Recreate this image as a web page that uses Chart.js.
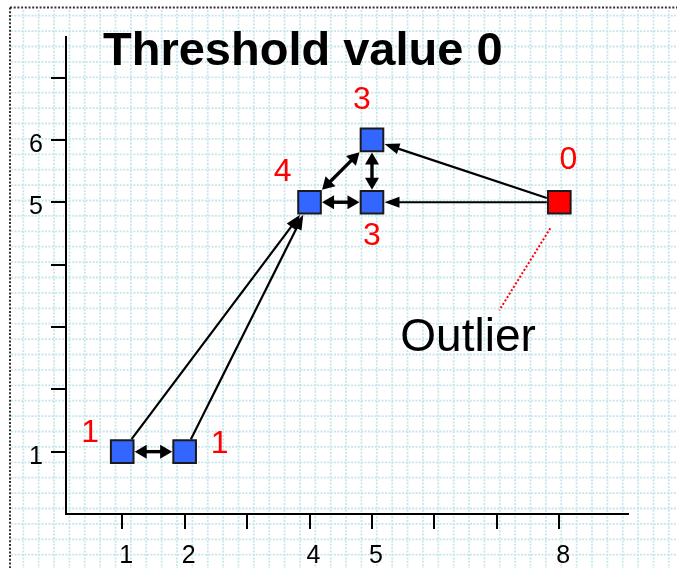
<!DOCTYPE html>
<html>
<head>
<meta charset="utf-8">
<script src="https://cdn.jsdelivr.net/npm/chart.js@4"></script>
<style>
  body { margin: 0; background: #fff; }
  #wrap { width: 677px; height: 568px; }
</style>
</head>
<body>
<div id="wrap"><canvas id="c" width="677" height="568"></canvas></div>
<script>
// data
const xValues = [1, 2, 4, 5, 5, 8];
const yValues = [1, 1, 5, 5, 6, 5];
const pointLabels = ['1', '1', '4', '3', '3', '0'];
const outlierIndex = 5;
const xTicks = [1, 2, 3, 4, 5, 6, 7, 8];
const xTickLabels = [1, 2, 4, 5, 8];
const yTicks = [1, 2, 3, 4, 5, 6, 7];
const yTickLabels = [1, 5, 6];
// [from, to, double headed]
const arrows = [[0, 1, true], [0, 2, false], [1, 2, false], [2, 3, true],
                [2, 4, true], [3, 4, true], [5, 3, false], [5, 4, false]];
const titleText = 'Threshold value 0';
const outlierText = 'Outlier';

// where the red numbers sit, relative to their point (px)
const labelOffsets = [[-32, -18], [35, -7], [-27, -30], [0, 34], [-10, -40], [9, -42]];

Chart.defaults.font.family = '"Liberation Sans", Arial, sans-serif';
Chart.defaults.color = '#000';

const background = {
  id: 'background',
  beforeDraw(chart) {
    const ctx = chart.ctx, w = chart.width, h = chart.height;
    ctx.save();
    ctx.strokeStyle = '#c6e6ec';
    ctx.lineWidth = 1.8;
    ctx.setLineDash([2, 1.4]);
    for (let x = 23.3; x < w; x += 15.37) {
      ctx.beginPath(); ctx.moveTo(x, 10); ctx.lineTo(x, h); ctx.stroke();
    }
    for (let y = 15.7; y < h; y += 15.4) {
      ctx.beginPath(); ctx.moveTo(11, y); ctx.lineTo(w, y); ctx.stroke();
    }
    // dotted frame, top and left
    ctx.strokeStyle = '#333';
    ctx.lineWidth = 2;
    ctx.setLineDash([2, 1.7]);
    ctx.beginPath(); ctx.moveTo(10, 7.5); ctx.lineTo(w, 7.5); ctx.stroke();
    ctx.beginPath(); ctx.moveTo(10, 7.5); ctx.lineTo(10, h); ctx.stroke();
    ctx.restore();
  }
};

function head(ctx, x, y, ang, len, half) {
  const c = Math.cos(ang), s = Math.sin(ang);
  ctx.beginPath();
  ctx.moveTo(x, y);
  ctx.lineTo(x - len * c + half * s, y - len * s - half * c);
  ctx.lineTo(x - len * c - half * s, y - len * s + half * c);
  ctx.closePath();
  ctx.fill();
}

const arrowLines = {
  id: 'arrowLines',
  beforeDatasetsDraw(chart) {
    const ctx = chart.ctx;
    const pts = chart.getDatasetMeta(0).data;
    const half = 12.5;
    ctx.save();
    ctx.strokeStyle = '#000';
    ctx.fillStyle = '#000';
    arrows.forEach(([a, b, both]) => {
      const p = pts[a], q = pts[b];
      let dx = q.x - p.x, dy = q.y - p.y;
      const len = Math.hypot(dx, dy);
      const ux = dx / len, uy = dy / len;
      const d = half / Math.max(Math.abs(ux), Math.abs(uy));
      const sx = p.x + ux * d, sy = p.y + uy * d;
      const ex = q.x - ux * d, ey = q.y - uy * d;
      const ang = Math.atan2(uy, ux);
      const hl = both ? 12 : 15, hw = both ? 7 : 5.5;
      ctx.lineWidth = both ? 3.4 : 2.2;
      ctx.beginPath();
      ctx.moveTo(both ? sx + ux * hl * 0.8 : sx, both ? sy + uy * hl * 0.8 : sy);
      ctx.lineTo(ex - ux * hl * 0.8, ey - uy * hl * 0.8);
      ctx.stroke();
      head(ctx, ex, ey, ang, hl, hw);
      if (both) head(ctx, sx, sy, ang + Math.PI, hl, hw);
    });
    ctx.restore();
  },
  afterDatasetsDraw(chart) {
    const ctx = chart.ctx;
    const area = chart.chartArea;
    const pts = chart.getDatasetMeta(0).data;
    ctx.save();
    // title
    ctx.font = 'bold 47px "Liberation Sans", Arial, sans-serif';
    ctx.fillStyle = '#000';
    ctx.textAlign = 'left';
    ctx.textBaseline = 'alphabetic';
    ctx.fillText(titleText, area.left + 37, area.top + 28);
    // red numbers
    ctx.font = '32px "Liberation Sans", Arial, sans-serif';
    ctx.fillStyle = '#ff0000';
    ctx.textAlign = 'center';
    ctx.textBaseline = 'middle';
    pointLabels.forEach((t, i) => {
      ctx.fillText(t, pts[i].x + labelOffsets[i][0], pts[i].y + labelOffsets[i][1]);
    });
    // outlier note
    const o = pts[outlierIndex];
    ctx.strokeStyle = '#ff0000';
    ctx.lineWidth = 2;
    ctx.setLineDash([2, 2]);
    ctx.beginPath();
    ctx.moveTo(o.x - 9, o.y + 26);
    ctx.lineTo(o.x - 60, o.y + 108);
    ctx.stroke();
    ctx.font = '46px "Liberation Sans", Arial, sans-serif';
    ctx.fillStyle = '#000';
    ctx.textAlign = 'left';
    ctx.textBaseline = 'alphabetic';
    ctx.fillText(outlierText, o.x - 159, o.y + 149);
    ctx.restore();
  }
};

new Chart(document.getElementById('c'), {
  type: 'scatter',
  data: {
    datasets: [{
      data: xValues.map((x, i) => ({ x: x, y: yValues[i] })),
      pointStyle: 'rect',
      pointRadius: 16,
      backgroundColor: xValues.map((_, i) => i === outlierIndex ? '#ff0000' : '#3366ff'),
      borderColor: '#1a1a1a',
      borderWidth: 2
    }]
  },
  options: {
    responsive: false,
    animation: false,
    events: [],
    devicePixelRatio: 1,
    layout: { padding: { left: 0, top: 37, right: 49, bottom: 0 } },
    plugins: { legend: { display: false }, tooltip: { enabled: false } },
    scales: {
      x: {
        type: 'linear',
        min: 0.1,
        max: 9.1,
        afterBuildTicks: s => { s.ticks = xTicks.map(v => ({ value: v })); },
        afterFit: s => { s.height = 54; },
        grid: { drawOnChartArea: false, drawTicks: true, tickLength: 15, color: '#000', lineWidth: 2 },
        border: { display: true, color: '#000', width: 2 },
        ticks: {
          callback: v => xTickLabels.includes(v) ? String(v) : '',
          font: { size: 25 },
          padding: 12,
          labelOffset: 4,
          maxRotation: 0,
          autoSkip: false
        }
      },
      y: {
        type: 'linear',
        min: 0,
        max: 7.65,
        afterBuildTicks: s => { s.ticks = yTicks.map(v => ({ value: v })); },
        afterFit: s => { s.width = 66; },
        grid: { drawOnChartArea: false, drawTicks: true, tickLength: 15, color: '#000', lineWidth: 2 },
        border: { display: true, color: '#000', width: 2 },
        ticks: {
          callback: v => yTickLabels.includes(v) ? String(v) : '',
          font: { size: 25 },
          padding: 8,
          labelOffset: 5,
          autoSkip: false
        }
      }
    }
  },
  plugins: [background, arrowLines]
});
</script>
</body>
</html>
